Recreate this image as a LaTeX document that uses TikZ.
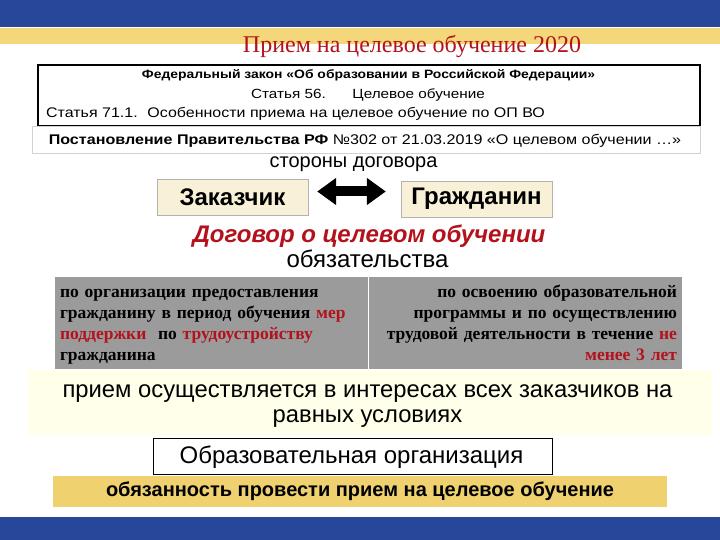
\documentclass[tikz,border=0pt]{standalone}
\usepackage{fontspec}
\setmainfont{Liberation Sans}
\newfontfamily\timesfont{Liberation Serif}
\newfontfamily\lawfont[FakeStretch=1.15]{Liberation Sans}
\usetikzlibrary{positioning,arrows.meta}
\definecolor{bandblue}{HTML}{27489A}
\definecolor{bandgold}{HTML}{F3D77A}
\definecolor{titlered}{HTML}{B3121C}
\definecolor{cream}{HTML}{F8F1D8}
\definecolor{tablegray}{HTML}{9B9B9B}
\definecolor{paleyellow}{HTML}{FFFFEA}
\definecolor{barGold}{HTML}{EFD170}
\newcommand{\fs}[1]{\fontsize{#1}{1.2\dimexpr#1pt\relax}\selectfont}
\newcommand{\hl}[1]{\textcolor{titlered}{#1}}

\begin{document}
\begin{tikzpicture}[x=1pt,y=-1pt,
  plain/.style={inner sep=0pt},
  lawline/.style={inner sep=0pt,anchor=base,font=\lawfont\fs{13.9}},
  partybox/.style={draw=gray!60,fill=cream,minimum width=151,minimum height=36,inner sep=0pt,font=\bfseries\fs{24}},
  cell/.style={fill=tablegray,minimum width=313,minimum height=92,inner sep=0pt},
  celltext/.style={inner sep=0pt,text width=303,font=\timesfont\bfseries\fontsize{17.5}{21}\selectfont},
 ]
 \useasboundingbox (0,0) rectangle (720,540);
 % bands
 \fill[bandblue] (0,0) rectangle (720,27);
 \fill[bandgold] (0,28) rectangle (720,44);
 \fill[bandblue] (0,517) rectangle (720,540);
 \node[plain,anchor=base,text=titlered,font=\timesfont\fs{24}] (title) at (412,53) {Прием на целевое обучение 2020};
 %
 \node[draw,line width=1.6pt,minimum width=662,minimum height=61,inner sep=0pt] (law) at (369,95.5) {};
 \node[lawline,font=\lawfont\bfseries\fs{12.1}] (law1) at (368.5,79) {Федеральный закон «Об образовании в Российской Федерации»};
 \node[lawline,font=\lawfont\fs{13.3}] (law2) at (368,99) {Статья 56.\hspace{2em}Целевое обучение};
 \node[lawline,anchor=base west] (law3) at (46,118) {Статья 71.1.\hspace{0.7em}Особенности приема на целевое обучение по ОП ВО};
 \node[draw=gray!35,line width=1pt,minimum width=668,minimum height=27,inner sep=0pt] (decree) at (366.5,140.5) {};
 \node[plain,anchor=base,font=\lawfont\fs{14}] (decreetxt) at (365,145)
   {\textbf{Постановление Правительства РФ} №302 от 21.03.2019 «О целевом обучении …»};
 %
 \node[plain,anchor=base,font=\fs{20}] (sides) at (353.5,168) {стороны договора};
 \node[partybox] (cust) at (232.5,197.5) {Заказчик};
 \node[partybox] (citz) at (476.5,199) {Гражданин};
 \coordinate (arrL) at ([yshift=6pt]cust.east);
 \coordinate (arrR) at (arrL -| citz.west);
 \draw[line width=10pt,{Triangle[length=19pt,width=26pt]}-{Triangle[length=19pt,width=26pt]},shorten <=9pt,shorten >=15pt] (arrL) -- (arrR);
 \node[plain,anchor=base,text=titlered,font=\bfseries\itshape\fs{24}] (contract) at (369,242) {Договор о целевом обучении};
 \node[plain,anchor=base,font=\fs{24}] (duties) at (367.5,267) {обязательства};
 %
 \node[cell] (left) at (211.5,323) {};
 \node[cell] (right) at (525.5,323) {};
 \node[celltext,align=left] (lefttxt) at ([yshift=-1.3pt]left.center)
   {\strut по организации предоставления\\ гражданину в период обучения \hl{мер}\\ \hl{поддержки}\ \ по \hl{трудоустройству}\\ гражданина\strut};
 \node[celltext,align=right] (righttxt) at ([yshift=-1.3pt]right.center)
   {\strut по освоению образовательной\\ программы и по осуществлению\\ трудовой деятельности в течение \hl{не}\\ \hl{менее 3 лет}\strut};
 %
 \node[fill=paleyellow,minimum width=684,minimum height=65,inner sep=0pt] (equal) at (370,402.5) {};
 \node[plain,anchor=base,font=\fs{23.8}] (equal1) at (367.5,397) {прием осуществляется в интересах всех заказчиков на};
 \node[plain,anchor=base,font=\fs{23.8}] (equal2) at (367.5,422) {равных условиях};
 \node[draw,fill=white,minimum width=399,minimum height=36,inner sep=0pt] (edu) at (352.5,456) {};
 \node[plain,anchor=base,font=\fs{24}] (edutxt) at (351.5,463) {Образовательная организация};
 \node[fill=barGold,minimum width=614,minimum height=31,inner sep=0pt,font=\bfseries\fs{20}] (duty) at (360,491.5) {обязанность провести прием на целевое обучение};
\end{tikzpicture}
\end{document}
